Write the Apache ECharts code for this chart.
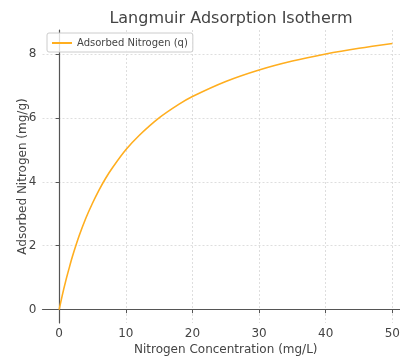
<!DOCTYPE html>
<html>
<head>
<meta charset="utf-8">
<script src="https://cdn.jsdelivr.net/npm/echarts@6/dist/echarts.min.js"></script>
<style>
  html, body { margin: 0; padding: 0; background: #fff; }
  #chart { width: 400px; height: 358px; }
</style>
</head>
<body>
<div id="chart"></div>
<script>
// Nitrogen concentration (mg/L) and adsorbed amount (mg/g)
const concentration = [0, 0.5, 1, 1.5, 2, 3, 4, 5, 6, 7, 8, 10, 12, 15, 18, 20, 25, 30, 35, 40, 45, 50];
const adsorbed = [0, 0.48, 0.91, 1.30, 1.67, 2.31, 2.86, 3.33, 3.75, 4.12, 4.44, 5.00, 5.45, 6.00, 6.43, 6.67, 7.14, 7.50, 7.78, 8.00, 8.18, 8.33];
const xTicks = [0, 10, 20, 30, 40, 50];
const yTicks = [0, 2, 4, 6, 8];

const FONT = 'DejaVu Sans';
const TEXT = '#444';
const SPINE = '#555';
const GRIDC = '#d6d6d6';

const points = concentration.map((c, i) => [c, adsorbed[i]]);

const chart = echarts.init(document.getElementById('chart'), null, { renderer: 'canvas' });
chart.setOption({
  animation: false,
  backgroundColor: '#fff',
  title: {
    text: 'Langmuir Adsorption Isotherm',
    left: 226, top: 6, textAlign: 'center',
    textStyle: { fontFamily: FONT, fontSize: 16, fontWeight: 'normal', color: TEXT }
  },
  legend: {
    left: 47, top: 33,
    orient: 'vertical',
    itemWidth: 20, itemHeight: 2,
    itemGap: 0,
    padding: [5, 5, 4, 5],
    borderColor: '#ccc', borderWidth: 1, borderRadius: 2,
    backgroundColor: 'rgba(255,255,255,0.8)',
    icon: 'rect',
    textStyle: { fontFamily: FONT, fontSize: 10, color: TEXT },
    data: ['Adsorbed Nitrogen (q)']
  },
  grid: { left: 42.5, top: 30, width: 366.5, height: 293, containLabel: false, outerBoundsMode: 'none' },
  xAxis: {
    type: 'value', min: -2.5, max: 52.5,
    name: 'Nitrogen Concentration (mg/L)', nameLocation: 'middle', nameGap: 21,
    nameMoveOverlap: false,
    nameTextStyle: { fontFamily: FONT, fontSize: 12, color: TEXT },
    axisLine: { show: true, lineStyle: { color: SPINE, width: 1.2 } },
    axisTick: { show: true, length: 3.5, lineStyle: { color: SPINE }, customValues: xTicks },
    axisLabel: { fontFamily: FONT, fontSize: 12, color: TEXT, margin: 5, customValues: xTicks },
    splitLine: { show: true, lineStyle: { color: GRIDC, type: [2, 2], width: 0.8 } }
  },
  yAxis: {
    type: 'value', min: -0.417, max: 8.75,
    name: 'Adsorbed Nitrogen (mg/g)', nameLocation: 'middle', nameGap: 14, nameRotate: 90,
    nameMoveOverlap: false,
    nameTextStyle: { fontFamily: FONT, fontSize: 12, color: TEXT },
    axisLine: { show: true, lineStyle: { color: SPINE, width: 1.2 } },
    axisTick: { show: true, length: 3.5, lineStyle: { color: SPINE }, customValues: yTicks },
    axisLabel: { fontFamily: FONT, fontSize: 12, color: TEXT, margin: 6, customValues: yTicks },
    splitLine: { show: true, lineStyle: { color: GRIDC, type: [2, 2], width: 0.8 } }
  },
  series: [{
    name: 'Adsorbed Nitrogen (q)',
    type: 'line',
    data: points,
    smooth: 0.3,
    showSymbol: false,
    lineStyle: { color: '#FFAE1F', width: 1.6 },
    itemStyle: { color: '#FFAE1F' }
  }]
});
</script>
</body>
</html>
